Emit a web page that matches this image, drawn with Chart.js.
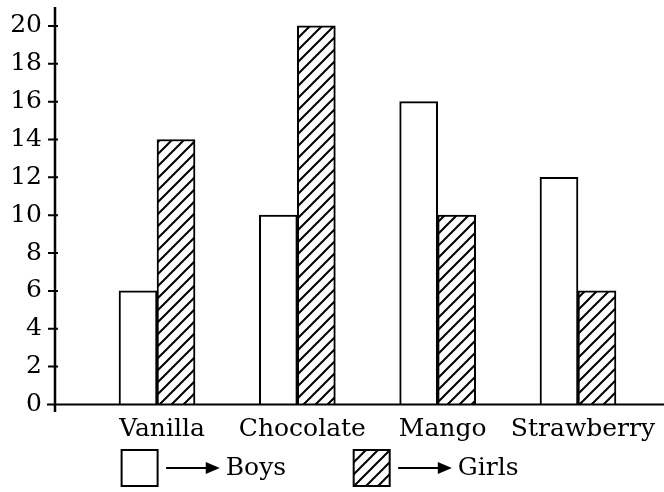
<!DOCTYPE html>
<html>
<head>
<meta charset="utf-8">
<script src="https://cdn.jsdelivr.net/npm/chart.js@4/dist/chart.umd.min.js"></script>
<style>
  html, body { margin: 0; padding: 0; background: #fff; }
  #wrap { width: 664px; height: 492px; }
</style>
</head>
<body>
<div id="wrap"><canvas id="chart-bar"></canvas></div>
<script>
const categories = ['Vanilla', 'Chocolate', 'Mango', 'Strawberry'];
const boys = [6, 10, 16, 12];
const girls = [14, 20, 10, 6];
const yTicks = [0, 2, 4, 6, 8, 10, 12, 14, 16, 18, 20];

const FONT = { family: '"DejaVu Serif", serif', size: 25 };
const ARROW_GAP = '       ';

// diagonal hatch for the Girls bars
const hatch = () => {
  const s = 12;
  const c = document.createElement('canvas');
  c.width = s; c.height = s;
  const g = c.getContext('2d');
  g.fillStyle = '#fff';
  g.fillRect(0, 0, s, s);
  g.strokeStyle = '#000';
  g.lineWidth = 2;
  g.beginPath();
  g.moveTo(-2, s + 2); g.lineTo(s + 2, -2);
  g.moveTo(-2, 2); g.lineTo(2, -2);
  g.moveTo(s - 2, s + 2); g.lineTo(s + 2, s - 2);
  g.stroke();
  return g.createPattern(c, 'repeat');
};

const axisLines = {
  id: 'axisLines',
  afterDraw(chart) {
    const { ctx, chartArea, scales } = chart;
    const y0 = scales.y.getPixelForValue(0);
    const x0 = chartArea.left;
    ctx.save();
    ctx.strokeStyle = '#000';
    ctx.lineWidth = 2.5;
    ctx.beginPath();
    ctx.moveTo(x0, chartArea.top);
    ctx.lineTo(x0, chartArea.bottom);
    ctx.stroke();
    ctx.lineWidth = 2;
    ctx.beginPath();
    ctx.moveTo(x0 - 8, y0);
    ctx.lineTo(chartArea.right, y0);
    scales.y.ticks.forEach(t => {
      const py = scales.y.getPixelForValue(t.value);
      ctx.moveTo(x0 - 7, py);
      ctx.lineTo(x0 + 3, py);
    });
    ctx.stroke();

    // arrows inside the legend
    const lg = chart.legend;
    ctx.font = FONT.size + 'px ' + FONT.family;
    const gapW = ctx.measureText(ARROW_GAP).width;
    lg.legendHitBoxes.forEach(b => {
      const sx = b.left + 36 + FONT.size / 2 - 4;
      const ex = sx + gapW - 2;
      const cy = b.top + b.height / 2;
      ctx.lineWidth = 2;
      ctx.beginPath();
      ctx.moveTo(sx, cy);
      ctx.lineTo(ex - 10, cy);
      ctx.stroke();
      ctx.fillStyle = '#000';
      ctx.beginPath();
      ctx.moveTo(ex, cy);
      ctx.lineTo(ex - 14, cy - 6);
      ctx.lineTo(ex - 14, cy + 6);
      ctx.closePath();
      ctx.fill();
    });
    ctx.restore();
  }
};

const chartBar = () => {
  const ctx = document.getElementById('chart-bar');

  new Chart(ctx, {
    type: 'bar',
    data: {
      datasets: [{
        label: 'Boys',
        data: boys.map((v, i) => ({ x: i, y: v })),
        backgroundColor: '#fff',
        borderColor: '#000',
        borderWidth: 2,
      }, {
        label: 'Girls',
        data: girls.map((v, i) => ({ x: i, y: v })),
        backgroundColor: hatch(),
        borderColor: '#000',
        borderWidth: 2,
      }]
    },
    options: {
      responsive: true,
      maintainAspectRatio: false,
      animation: false,
      layout: { padding: { left: 0, right: 0, top: 7, bottom: -4 } },
      datasets: { bar: { barThickness: 38 } },
      scales: {
        x: {
          type: 'linear',
          offset: false,
          min: -0.727,
          max: 3.613,
          grid: { display: false, drawTicks: false },
          border: { display: false },
          afterBuildTicks: s => { s.ticks = categories.map((_, i) => ({ value: i })); },
          afterFit: s => { s.paddingLeft = 0; s.paddingRight = 0; },
          ticks: {
            callback: v => categories[v],
            font: FONT,
            color: '#000',
            padding: 2,
            labelOffset: 5,
            maxRotation: 0,
            autoSkip: false,
          }
        },
        y: {
          min: -0.4,
          max: 21,
          grid: { display: false, drawTicks: false },
          border: { display: false },
          afterBuildTicks: s => { s.ticks = yTicks.map(v => ({ value: v })); },
          afterFit: s => { s.width = 55; s.paddingTop = 0; s.paddingBottom = 0; },
          ticks: {
            font: FONT,
            color: '#000',
            padding: 13,
          }
        }
      },
      plugins: {
        tooltip: { enabled: false },
        legend: {
          position: 'bottom',
          labels: {
            font: FONT,
            color: '#000',
            boxWidth: 36,
            boxHeight: 36,
            padding: 4,
            generateLabels: chart => chart.data.datasets.map((d, i) => ({
              text: ARROW_GAP + d.label + (i === 0 ? '        ' : '   '),
              fillStyle: d.backgroundColor,
              strokeStyle: '#000',
              lineWidth: 2,
              fontColor: '#000',
              datasetIndex: i,
            }))
          }
        }
      }
    },
    plugins: [axisLines]
  });
};

chartBar();
</script>
</body>
</html>
